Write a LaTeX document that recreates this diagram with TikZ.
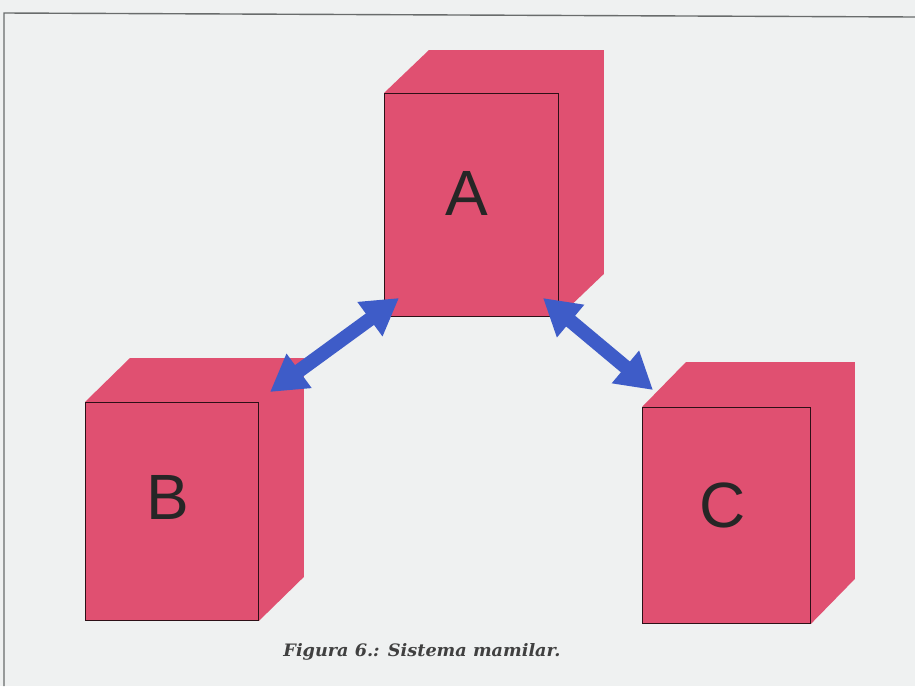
\documentclass[tikz,border=0pt]{standalone}
\usepackage{fontspec}
\setmainfont{Liberation Sans}
\newfontfamily\capfont{DejaVu Serif}
\usetikzlibrary{arrows.meta,calc}
\definecolor{bgc}{RGB}{239,241,241}
\definecolor{boxpink}{RGB}{224,80,113}
\definecolor{arrblue}{RGB}{62,92,200}
\definecolor{framegray}{RGB}{105,108,108}
\begin{document}
\begin{tikzpicture}[x=1pt,y=-1pt,
  face/.style={draw=black!80!boxpink, line width=0.9pt, fill=boxpink, rectangle, inner sep=0pt, anchor=north west},
  letter/.style={font=\fontsize{64}{64}\selectfont, text=black!85},
  link/.style={arrblue, line width=14pt, {Triangle[length=36pt,width=40pt]}-{Triangle[length=36pt,width=40pt]}}]
\useasboundingbox (0,0) rectangle (915,686);
\fill[bgc] (0,0) rectangle (915,686);
% frame
\draw[framegray, line width=1.4pt] (4,686) -- (4,13) -- (915,17);
% front faces
\node[face, minimum width=174pt, minimum height=223pt] (A) at (384,93) {};
\node[face, minimum width=173pt, minimum height=218pt] (B) at (85,402) {};
\node[face, minimum width=168pt, minimum height=216pt] (C) at (642,407) {};
% depth
\foreach \n/\dx/\dy in {A/45/43, B/45/44, C/44/45}{
  \fill[boxpink] (\n.north west) -- ++(\dx,-\dy) -- ($(\n.north east)+(\dx,-\dy)$) -- ($(\n.south east)+(\dx,-\dy)$) -- (\n.south east) -- (\n.north east) -- cycle;
}
\draw[black!80!boxpink, line width=0.9pt] (A.north west) rectangle (A.south east);
\draw[black!80!boxpink, line width=0.9pt] (B.north west) rectangle (B.south east);
\draw[black!80!boxpink, line width=0.9pt] (C.north west) rectangle (C.south east);
% letters
\node[letter] (lA) at (467,193) {A};
\node[letter] (lB) at (168,497) {B};
\node[letter] (lC) at (723,505) {C};
% arrows
\coordinate (a1) at (399,298);
\coordinate (b1) at (270,392);
\coordinate (a2) at (543,298);
\coordinate (c1) at (653,390);
\draw[link] (a1) -- (b1);
\draw[link] (a2) -- (c1);
% caption
\node (cap) at (422,652) {\resizebox{277pt}{13pt}{\capfont\bfseries\itshape\color{black!75}Figura 6.: Sistema mamilar.}};
\end{tikzpicture}
\end{document}
